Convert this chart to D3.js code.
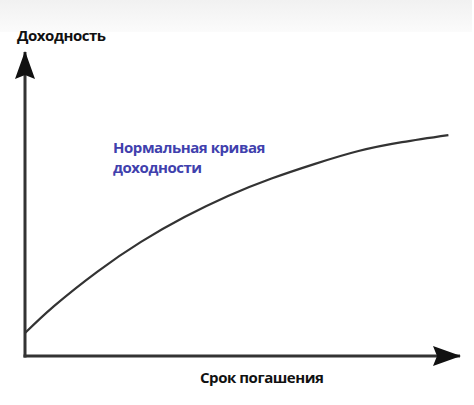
<!DOCTYPE html>
<html>
<head>
<meta charset="utf-8">
<script src="https://cdn.jsdelivr.net/npm/d3@7"></script>
<style>
  html, body { margin: 0; padding: 0; background: #fff; }
  svg { display: block; }
  text { font-family: "Open Sans", sans-serif; font-weight: 700; font-size: 15px; letter-spacing: -0.45px; }
</style>
</head>
<body>
<svg width="474" height="405"></svg>
<script>
// maturity (years) and yield (%)
var maturities = [0, 2, 5, 8, 11, 14, 17, 20, 23, 26, 29.2];
var yields = [0.75, 1.63, 2.76, 3.73, 4.54, 5.23, 5.80, 6.28, 6.70, 6.99, 7.22];

var yLabel = 'Доходность';
var xLabel = 'Срок погашения';
var curveLabel = ['Нормальная кривая', 'доходности'];

var svg = d3.select('svg');

var x = d3.scaleLinear().domain([0, 30]).range([25, 460]);
var y = d3.scaleLinear().domain([0, 10]).range([356, 50]);

var defs = svg.append('defs');

// faint grey band at the top of the picture
var grad = defs.append('linearGradient')
    .attr('id', 'band')
    .attr('x1', 0).attr('y1', 0).attr('x2', 0).attr('y2', 1);
grad.append('stop').attr('offset', '0%').attr('stop-color', '#f1f1f1');
grad.append('stop').attr('offset', '100%').attr('stop-color', '#fbfbfb');
svg.append('rect')
    .attr('x', 0).attr('y', 0)
    .attr('width', 472).attr('height', 32)
    .attr('fill', 'url(#band)');

// arrow heads
defs.append('marker')
    .attr('id', 'arrow')
    .attr('viewBox', '0 0 28 20')
    .attr('refX', 27).attr('refY', 10)
    .attr('markerWidth', 28).attr('markerHeight', 20)
    .attr('markerUnits', 'userSpaceOnUse')
    .attr('orient', 'auto')
  .append('path')
    .attr('d', 'M0,0 L28,10 L0,20 L4,10 Z')
    .attr('fill', '#111');

// axes
svg.append('line')
    .attr('x1', x(0)).attr('y1', y(0) + 1.5)
    .attr('x2', x(0)).attr('y2', y(10) + 2)
    .style('stroke', '#333')
    .style('stroke-width', '3px')
    .attr('marker-end', 'url(#arrow)');
svg.append('line')
    .attr('x1', x(0) - 1.5).attr('y1', y(0))
    .attr('x2', x(30)).attr('y2', y(0))
    .style('stroke', '#333')
    .style('stroke-width', '3px')
    .attr('marker-end', 'url(#arrow)');

// yield curve
var line = d3.line()
    .x(function(d, i) { return x(maturities[i]); })
    .y(function(d) { return y(d); })
    .curve(d3.curveNatural);

svg.append('path')
    .datum(yields)
    .attr('d', line)
    .attr('fill', 'none')
    .style('stroke', '#333')
    .style('stroke-width', '2.2px');

// texts
svg.append('text')
    .attr('x', 17).attr('y', 41)
    .attr('fill', '#111')
    .text(yLabel);

svg.append('text')
    .attr('x', 200).attr('y', 383)
    .attr('fill', '#111')
    .text(xLabel);

svg.selectAll('text.curve')
    .data(curveLabel)
  .enter().append('text')
    .attr('class', 'curve')
    .attr('x', 113)
    .attr('y', function(d, i) { return 153 + i * 20; })
    .attr('fill', '#4040ad')
    .text(function(d) { return d; });
</script>
</body>
</html>
